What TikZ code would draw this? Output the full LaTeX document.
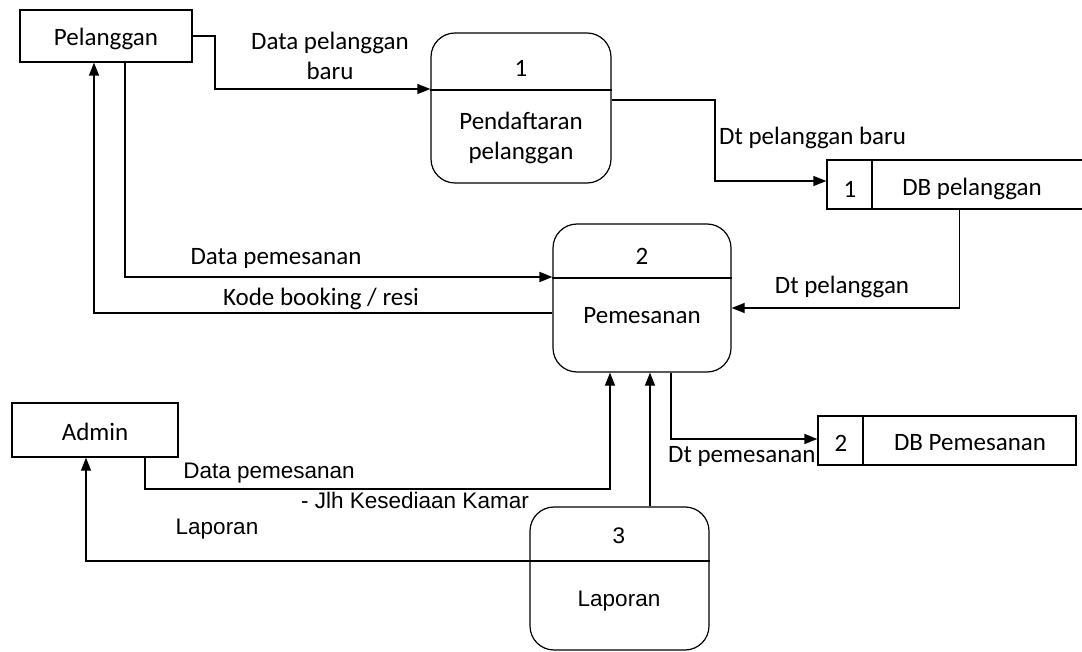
\documentclass[tikz,border=0pt]{standalone}
\usepackage{fontspec}
\usepackage{tikz}
\usetikzlibrary{arrows.meta}
\newfontfamily\carlito{Carlito}
\newfontfamily\arimo{Liberation Sans}
\newcommand{\labelfont}{\carlito\fontsize{25}{30}\selectfont}
\newcommand{\arialfont}{\arimo\fontsize{22.5}{27}\selectfont}

\begin{document}
\begin{tikzpicture}[x=1pt,y=-1pt,
    entity/.style={draw, line width=1.2pt, inner sep=0pt, font=\labelfont, text depth=0pt, text height=20pt},
    proc/.style={draw, line width=1.2pt, rounded corners=24pt, inner sep=0pt},
    flow/.style={line width=1.2pt, -{Triangle[length=13pt,width=10pt]}},
    lbl/.style={font=\labelfont, inner sep=0pt, align=center},
    albl/.style={font=\arialfont, inner sep=0pt}]
            \useasboundingbox (0,0) rectangle (1082,652);

            \node[entity, minimum width=172pt, minimum height=52pt] (pelanggan) at (106,36) {Pelanggan};
            \node[entity, minimum width=166pt, minimum height=54pt] (admin) at (95,430) {Admin};

            \node[proc, minimum width=180pt, minimum height=150pt] (p1) at (521,108) {};
            \draw[line width=1.2pt] (p1.west |- 0,90) -- (p1.east |- 0,90);
            \node[lbl] (p1num) at (521,68) {1};
            \node[lbl] (p1name) at (521,138) {Pendaftaran\\pelanggan};

            \node[proc, minimum width=178pt, minimum height=148pt] (p2) at (642,298) {};
            \draw[line width=1.2pt] (p2.west |- 0,278) -- (p2.east |- 0,278);
            \node[lbl] (p2num) at (642,256) {2};
            \node[lbl] (p2name) at (642,316) {Pemesanan};

            \node[proc, minimum width=179pt, minimum height=143pt] (p3) at (619.5,578.5) {};
            \draw[line width=1.2pt] (p3.west |- 0,561) -- (p3.east |- 0,561);
            \node[albl] (p3num) at (619,536) {3};
            \node[albl] (p3name) at (619,601) {Laporan};

            \node[draw, line width=1.2pt, minimum width=265pt, minimum height=49pt] (dbpel) at (959.5,184.5) {};
            \draw[line width=1.2pt] (872,0 |- dbpel.north) -- (872,0 |- dbpel.south);
            \node[lbl] (dbpelnum) at (850,189) {1};
            \node[lbl] (dbpelname) at (972,189) {DB pelanggan};

            \node[draw, line width=1.2pt, minimum width=258pt, minimum height=49pt] (dbpes) at (947,440.5) {};
            \draw[line width=1.2pt] (863,0 |- dbpes.north) -- (863,0 |- dbpes.south);
            \node[lbl] (dbpesnum) at (841,443) {2};
            \node[lbl] (dbpesname) at (970,443) {DB Pemesanan};

            \draw[flow] (pelanggan.east) -- (215,36) |- (p1.west |- 0,89);
            \draw[flow] (p1.east |- 0,100) -- (715,100) |- (dbpel.west |- 0,181);
            \draw[flow] (dbpel.south) |- (p2.east |- 0,308);
            \draw[flow, line width=1.7pt] (pelanggan.south -| 125,0) |- (p2.west |- 0,277);
            \draw[flow] (p2.west |- 0,313) -| (pelanggan.south -| 94,0);
            \draw[flow] (admin.south -| 145,0) |- (610,489) -- (p2.south -| 610,0);
            \draw[flow] (p3.north -| 650,0) -- (p2.south -| 650,0);
            \draw[flow, line width=1.5pt] (p2.south -| 671,0) |- (dbpes.west |- 0,439);
            \draw[flow] (p3.west |- 0,561) -| (admin.south -| 86,0);

            \node[lbl] (l1) at (330,56) {Data pelanggan\\baru};
            \node[lbl, anchor=west] (l2) at (719,138) {Dt pelanggan baru};
            \node[lbl] (l3) at (842,287) {Dt pelanggan};
            \node[lbl] (l4) at (276,258) {Data pemesanan};
            \node[lbl] (l5) at (321,299) {Kode booking / resi};
            \node[lbl, anchor=west] (l6) at (668,456) {Dt pemesanan};
            \node[albl] (l7) at (269,473) {Data pemesanan};
            \node[albl] (l8) at (415,500) {- Jlh Kesediaan Kamar};
            \node[albl] (l9) at (217,529) {Laporan};
        \end{tikzpicture}
\end{document}
